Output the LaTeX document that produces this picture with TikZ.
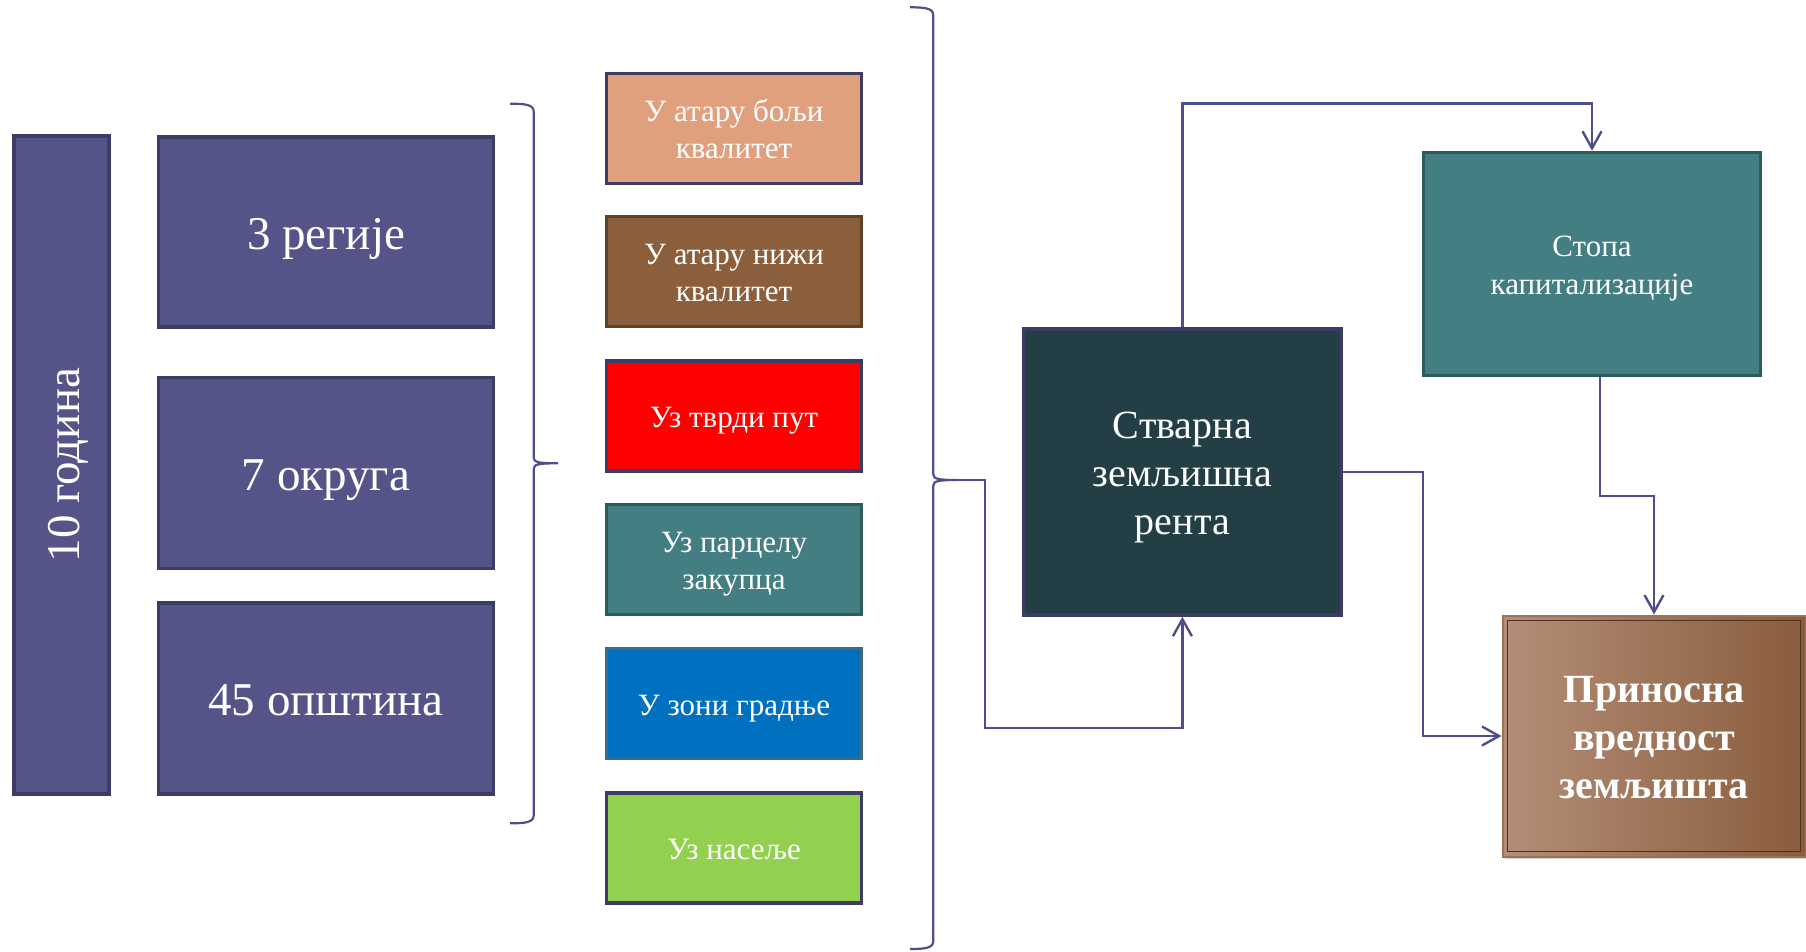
\documentclass[tikz,border=0pt]{standalone}
\usepackage{fontspec}
\setmainfont{Liberation Serif}
\usetikzlibrary{arrows.meta,shadows,calc}
\definecolor{pfill}{HTML}{545488}
\definecolor{pdraw}{HTML}{3C3C64}
\definecolor{cA}{HTML}{E0A07E}
\definecolor{cB}{HTML}{8B5E3C}
\definecolor{cBd}{HTML}{5E4229}
\definecolor{cT}{HTML}{437E82}
\definecolor{cTd}{HTML}{2F5B5D}
\definecolor{cBlue}{HTML}{0070C0}
\definecolor{cBlued}{HTML}{3F6A84}
\definecolor{cG}{HTML}{92D050}
\definecolor{cStv}{HTML}{233F45}
\definecolor{lineC}{HTML}{4E4E8E}
\definecolor{brL}{HTML}{B48E78}
\definecolor{brD}{HTML}{8A5C3C}
\definecolor{brEdge}{HTML}{9E7056}
\definecolor{brIn}{HTML}{4A3225}
\newcommand\topS{\rule{0pt}{0.95em}}
\newcommand\botS{\rule[-0.216em]{0pt}{0.216em}}
\newcommand\myBrace[6]{% hookx, vx, top, tipx, tipy, bottom
  \draw[bracestyle] (#1,#3) .. controls (#2-8,#3) and (#2,#3+1) .. (#2,#3+8)
    -- (#2,#5-6) .. controls (#2,#5-1) and (#2+4,#5) .. (#4,#5)
    .. controls (#2+4,#5) and (#2,#5+1) .. (#2,#5+6)
    -- (#2,#6-8) .. controls (#2,#6-1) and (#2-8,#6) .. (#1,#6);}
\begin{document}
\begin{tikzpicture}[x=1pt,y=-1pt,
  box/.style={draw, line width=3.5pt, inner sep=0pt, align=center, text=white},
  bigtext/.style={font=\fontsize{47}{54}\selectfont},
  smalltext/.style={font=\fontsize{31}{37}\selectfont},
  conn/.style={draw=lineC, line width=2.4pt},
  arr/.style={conn, -{Straight Barb[length=17pt,width=19pt,line width=2.4pt]}},
  bracestyle/.style={draw=lineC, line width=2.2pt}]
\useasboundingbox (0,0) rectangle (1806,951);
% left column
\node[box, fill=pfill, draw=pdraw, minimum width=95pt, minimum height=658pt] (god) at (61.7,465) {};
\node[bigtext, text=white, rotate=90] (godt) at (62.7,465) {\topS 10 година\botS};
\node[box, bigtext, fill=pfill, draw=pdraw, minimum width=335pt, minimum height=190pt] (reg) at (326,231.8) {\topS 3 регије\botS};
\node[box, bigtext, fill=pfill, draw=pdraw, minimum width=335pt, minimum height=191pt] (okr) at (326,473.2) {\topS 7 округа\botS};
\node[box, bigtext, fill=pfill, draw=pdraw, minimum width=335pt, minimum height=191pt] (ops) at (326,698.4) {\topS 45 општина\botS};
% brace 1
\myBrace{510}{533.7}{103.7}{558}{463.3}{823.3}
% middle column
\node[box, smalltext, fill=cA, draw=pdraw, minimum width=255pt, minimum height=110pt] (b1) at (734,128.4) {\topS У атару бољи\\квалитет\botS};
\node[box, smalltext, fill=cB, draw=cBd, minimum width=255pt, minimum height=110pt] (b2) at (734,271.6) {\topS У атару нижи\\квалитет\botS};
\node[box, smalltext, fill=red, draw=pdraw, minimum width=255pt, minimum height=110pt] (b3) at (734,415.9) {\topS Уз тврди пут\botS};
\node[box, smalltext, fill=cT, draw=cTd, minimum width=255pt, minimum height=110pt] (b4) at (734,559.7) {\topS Уз парцелу\\закупца\botS};
\node[box, smalltext, fill=cBlue, draw=cBlued, minimum width=255pt, minimum height=110pt] (b5) at (734,703.7) {\topS У зони градње\botS};
\node[box, smalltext, fill=cG, draw=pdraw, minimum width=255pt, minimum height=110pt] (b6) at (734,847.9) {\topS Уз насеље\botS};
% brace 2
\myBrace{910}{933.3}{7.3}{958}{480}{949}
\coordinate (btip) at (958,480);
% right part
\node[box, fill=cStv, draw=pdraw, minimum width=318pt, minimum height=286pt,
  font=\fontsize{40}{48}\selectfont] (stv) at (1182.4,472) {\topS Стварна\\земљишна\\рента\botS};
\node[box, fill=cT, draw=cTd, minimum width=337pt, minimum height=223pt,
  font=\fontsize{31}{38}\selectfont] (stopa) at (1592,264) {\topS Стопа\\капитализације\botS};
\node[draw=brEdge, line width=2pt, left color=brL, right color=brD, drop shadow={opacity=0.35},
  minimum width=303pt, minimum height=241pt, inner sep=0pt, align=center, text=white,
  font=\bfseries\fontsize{40}{48}\selectfont] (prin) at (1654,736) {\topS Приносна\\вредност\\земљишта\botS};
\draw[draw=brIn, line width=1.8pt] ([shift={(6,6)}]prin.north west) rectangle ([shift={(-6,-6)}]prin.south east);
% connectors
\coordinate (ytop) at (0,103.5);
\coordinate (ymid) at (0,496);
\coordinate (xc3) at (1423,0);
\coordinate (k1) at (985,728);
\draw[arr] (stv.north) -- (stv.north |- ytop) -| (stopa.north);
\draw[arr] ([xshift=8pt]stopa.south) -- ([xshift=8pt]stopa.south |- ymid) -| (prin.north);
\draw[arr] (stv.east) -- (stv.east -| xc3) |- (prin.west);
\draw[arr] (btip) -| (k1) -| (stv.south);
\end{tikzpicture}
\end{document}
